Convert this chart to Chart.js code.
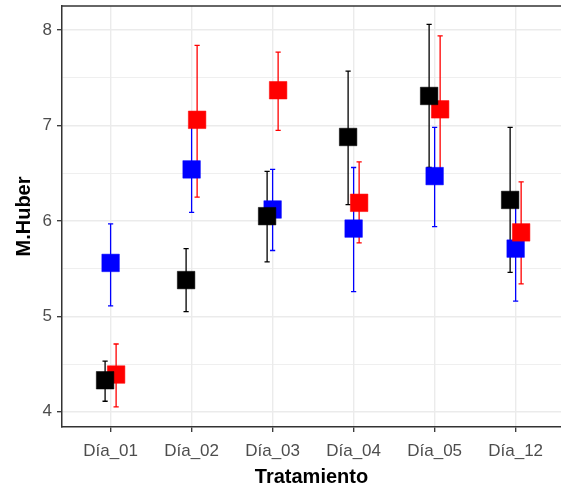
<!DOCTYPE html>
<html>
<head>
<meta charset="utf-8">
<script src="https://cdn.jsdelivr.net/npm/chart.js@4/dist/chart.umd.min.js"></script>
<style>
  html, body { margin: 0; padding: 0; background: #fff; }
  #wrap { width: 561px; height: 490px; }
</style>
</head>
<body>
<div id="wrap"><canvas id="chart" width="561" height="490"></canvas></div>
<script>
// Valores (M.Huber por tratamiento, media ± barra de error)

const dias = ['Día_01', 'Día_02', 'Día_03', 'Día_04', 'Día_05', 'Día_12'];
const yTicks = [4, 4.5, 5, 5.5, 6, 6.5, 7, 7.5, 8];

const negroMedia = [4.33, 5.38, 6.05, 6.88, 7.31, 6.22];
const negroAlto  = [4.53, 5.71, 6.52, 7.57, 8.06, 6.98];
const negroBajo  = [4.11, 5.05, 5.57, 6.17, 6.56, 5.46];

const rojoMedia = [4.39, 7.06, 7.37, 6.19, 7.17, 5.88];
const rojoAlto  = [4.71, 7.84, 7.77, 6.62, 7.94, 6.41];
const rojoBajo  = [4.05, 6.25, 6.95, 5.77, 6.40, 5.34];

const azulMedia = [5.56, 6.54, 6.12, 5.92, 6.47, 5.71];
const azulAlto  = [5.97, 6.99, 6.54, 6.56, 6.98, 6.26];
const azulBajo  = [5.11, 6.09, 5.69, 5.26, 5.94, 5.16];

// ====== SERIES ======

const series = [
  { color: '#000000', media: negroMedia, alto: negroAlto, bajo: negroBajo, dodge: -0.068 },
  { color: '#ff0000', media: rojoMedia, alto: rojoAlto, bajo: rojoBajo, dodge: 0.068 },
  { color: '#0000ff', media: azulMedia, alto: azulAlto, bajo: azulBajo, dodge: 0 },
];

const datasets = series.map(s => ({
  data: s.media.map((v, i) => ({ x: i + s.dodge, y: v })),
  backgroundColor: s.color,
  borderColor: s.color,
  borderWidth: 0.5,
  pointStyle: 'rect',
  pointRadius: 12.4,
  showLine: false,
  errAlto: s.alto,
  errBajo: s.bajo,
}));

// Barras de error dibujadas antes de los puntos
const errorBars = {
  id: 'errorBars',
  beforeDatasetsDraw(chart) {
    const { ctx, scales: { x, y } } = chart;
    ctx.save();
    ctx.lineWidth = 1.3;
    chart.data.datasets.forEach(ds => {
      ds.data.forEach((p, i) => {
        const px = x.getPixelForValue(p.x);
        const top = y.getPixelForValue(ds.errAlto[i]);
        const bot = y.getPixelForValue(ds.errBajo[i]);
        ctx.strokeStyle = ds.borderColor;
        ctx.beginPath();
        ctx.moveTo(px, top); ctx.lineTo(px, bot);
        ctx.moveTo(px - 2.6, top); ctx.lineTo(px + 2.6, top);
        ctx.moveTo(px - 2.6, bot); ctx.lineTo(px + 2.6, bot);
        ctx.stroke();
      });
    });
    ctx.restore();
  }
};

// Borde superior del panel (el derecho queda fuera de la imagen)
const panelTop = {
  id: 'panelTop',
  afterDatasetsDraw(chart) {
    const { ctx, chartArea: a } = chart;
    ctx.save();
    ctx.strokeStyle = '#333333';
    ctx.lineWidth = 1.5;
    ctx.beginPath();
    ctx.moveTo(a.left, a.top); ctx.lineTo(a.right + 2, a.top);
    ctx.stroke();
    ctx.restore();
  }
};

Chart.defaults.font.family = "'Liberation Sans', Arial, sans-serif";

new Chart(document.getElementById('chart'), {
  type: 'scatter',
  data: { datasets },
  plugins: [errorBars, panelTop],
  options: {
    responsive: false,
    animation: false,
    layout: { autoPadding: false, padding: { top: 6, right: 0, left: 0, bottom: 0 } },
    plugins: { legend: { display: false }, tooltip: { enabled: false } },
    scales: {
      x: {
        type: 'linear',
        min: -0.6,
        max: 5.56,
        afterBuildTicks: sc => { sc.ticks = dias.map((d, i) => ({ value: i })); },
        afterFit: sc => { sc.height = 63; sc.paddingLeft = 0; sc.paddingRight = 0; },
        ticks: {
          callback: v => dias[v],
          color: '#4d4d4d',
          font: { size: 17 },
          padding: 9,
          maxRotation: 0,
          autoSkip: false,
        },
        grid: { color: '#ebebeb', lineWidth: 1.4, tickLength: 5, tickColor: '#333333', tickWidth: 1.3 },
        border: { color: '#333333', width: 1.5 },
        title: {
          display: true, text: 'Tratamiento', color: '#000',
          font: { size: 20, weight: 'bold' }, padding: { top: 0, bottom: 1 },
        },
      },
      y: {
        min: 3.84,
        max: 8.253,
        afterBuildTicks: sc => { sc.ticks = yTicks.map(v => ({ value: v })); },
        afterFit: sc => { sc.width = 62; sc.paddingTop = 0; sc.paddingBottom = 0; },
        ticks: {
          callback: v => (v % 1 === 0 ? String(v) : ''),
          color: '#4d4d4d',
          font: { size: 17 },
          padding: 5,
        },
        grid: {
          color: '#ebebeb',
          lineWidth: c => (c.tick && c.tick.value % 1 === 0 ? 1.4 : 0.8),
          tickLength: 5,
          tickColor: c => (c.tick && c.tick.value % 1 === 0 ? '#333333' : 'rgba(0,0,0,0)'),
          tickWidth: 1.3,
        },
        border: { color: '#333333', width: 1.5 },
        title: {
          display: true, text: 'M.Huber', color: '#000',
          font: { size: 20, weight: 'bold' }, padding: { top: 12, bottom: 0 },
        },
      },
    },
  },
});
</script>
</body>
</html>
